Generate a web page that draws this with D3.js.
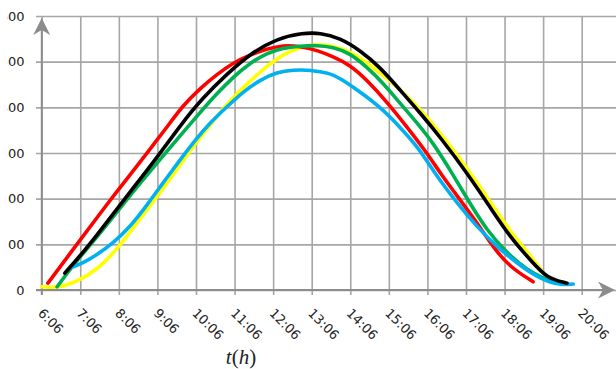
<!DOCTYPE html>
<html>
<head>
<meta charset="utf-8">
<script src="https://cdn.jsdelivr.net/npm/d3@7"></script>
<style>
  body { margin: 0; background: #fff; }
  svg { display: block; font-family: "DejaVu Sans", sans-serif; }
</style>
</head>
<body>
<svg id="chart" width="616" height="369"></svg>
<script>
// x ticks: one every hour, at h:06
const hourTicks = d3.range(6, 21).map(h => h + 0.1);
const tickLabels = d3.range(6, 21).map(h => h + ':06');
const valueTicks = [0, 100, 200, 300, 400, 500, 600];

// series, time in decimal hours
const redTime = [6.26, 6.65, 7.09, 7.53, 7.95, 8.39, 8.83, 9.35, 9.76, 10.20, 10.64, 11.06, 11.50, 11.94, 12.36, 12.80, 13.24, 13.65, 14.09, 14.53, 15.08, 15.57, 16.09, 16.43, 16.95, 17.39, 17.80, 18.24, 18.84];
const redVal = [15, 59, 109, 158, 205, 252, 300, 357, 404, 441, 472, 497, 515, 528, 536, 534, 525, 511, 493, 460, 409, 357, 300, 256, 197, 147, 94, 50, 18];

const blackTime = [6.70, 7.09, 7.53, 8.05, 8.57, 9.09, 9.76, 10.28, 10.90, 11.50, 12.20, 12.88, 13.32, 13.83, 14.35, 14.87, 15.39, 15.91, 16.43, 17.13, 17.72, 18.24, 18.84, 19.20, 19.72];
const blackVal = [37, 74, 120, 177, 234, 290, 368, 421, 473, 517, 551, 563, 563, 552, 525, 488, 438, 388, 335, 256, 182, 116, 59, 26, 15];

const greenTime = [6.50, 6.76, 7.09, 7.53, 8.05, 8.57, 9.25, 9.76, 10.20, 10.64, 11.06, 11.50, 11.94, 12.36, 12.80, 13.24, 13.65, 14.09, 14.53, 14.95, 15.39, 15.83, 16.25, 16.74, 17.20, 17.64, 18.16, 18.68, 19.10, 19.35];
const greenVal = [7, 37, 72, 116, 170, 226, 294, 345, 388, 430, 466, 497, 519, 530, 534, 536, 532, 519, 488, 453, 409, 366, 322, 256, 190, 131, 81, 44, 26, 18];

const yellowTime = [6.10, 6.57, 7.09, 7.53, 8.05, 8.57, 9.09, 9.61, 10.02, 10.64, 11.06, 11.50, 11.94, 12.36, 12.80, 13.24, 13.83, 14.35, 14.87, 15.39, 15.91, 16.43, 17.13, 17.72, 18.24, 18.84, 19.15];
const yellowVal = [7, 4, 22, 44, 88, 147, 204, 264, 314, 380, 422, 458, 490, 516, 532, 539, 532, 510, 475, 440, 396, 345, 266, 195, 128, 68, 33];

const blueTime = [6.89, 7.17, 7.53, 7.95, 8.39, 8.83, 9.24, 9.69, 10.02, 10.46, 10.90, 11.32, 11.76, 12.20, 12.62, 13.06, 13.57, 13.83, 14.35, 14.87, 15.39, 15.91, 16.25, 16.87, 17.39, 17.91, 18.42, 18.94, 19.46, 19.88];
const blueVal = [50, 59, 77, 103, 138, 186, 234, 285, 322, 366, 401, 434, 460, 477, 482, 482, 475, 464, 434, 401, 357, 307, 260, 190, 138, 94, 59, 28, 11, 13];

const series = [
  { color: '#ffff00', time: yellowTime, val: yellowVal },
  { color: '#ff0000', time: redTime, val: redVal },
  { color: '#00b050', time: greenTime, val: greenVal },
  { color: '#00b0f0', time: blueTime, val: blueVal },
  { color: '#000000', time: blackTime, val: blackVal }
];

const svg = d3.select('#chart');
const gridColor = '#a6a6a6';

const x = d3.scaleLinear().domain([6.1, 20.1]).range([41.7, 581.7]);
const y = d3.scaleLinear().domain([0, 600]).range([290, 16]);

// the left edge of the picture cuts the value labels
svg.append('defs').append('clipPath').attr('id', 'cut')
  .append('rect').attr('x', 7.5).attr('y', 0).attr('width', 616).attr('height', 369);

// vertical grid + rotated time labels
const xAxis = svg.append('g')
  .attr('transform', 'translate(0,295)')
  .call(d3.axisBottom(x).tickValues(hourTicks)
    .tickFormat((d, i) => tickLabels[i])
    .tickSizeInner(-(295 - 16)).tickSizeOuter(0));
xAxis.select('.domain').remove();
xAxis.selectAll('line').attr('stroke', gridColor).attr('stroke-width', 1.6);
xAxis.selectAll('text')
  .attr('x', 0).attr('y', 0).attr('dy', 0)
  .attr('text-anchor', 'start')
  .attr('transform', 'translate(-5,19) rotate(45)')
  .attr('fill', '#222')
  .style('font-size', '13px')
  .style('font-family', '"DejaVu Sans", sans-serif');

// horizontal grid + value labels
const yAxis = svg.append('g')
  .attr('clip-path', 'url(#cut)')
  .append('g')
  .attr('transform', 'translate(36,0)')
  .call(d3.axisLeft(y).tickValues(valueTicks)
    .tickSizeInner(-(616 - 36)).tickSizeOuter(0).tickPadding(11.5));
yAxis.select('.domain').remove();
yAxis.selectAll('line').attr('stroke', gridColor).attr('stroke-width', 1.6);
yAxis.selectAll('text')
  .attr('fill', '#222')
  .style('font-size', '13px')
  .style('font-family', '"DejaVu Sans", sans-serif');

// axis lines with arrows
const axisColor = '#8c8c8c';
svg.append('line')
  .attr('x1', x(6.1)).attr('x2', x(6.1)).attr('y1', 295).attr('y2', 24)
  .attr('stroke', axisColor).attr('stroke-width', 1.8);
svg.append('line')
  .attr('x1', 36).attr('x2', 606).attr('y1', y(0)).attr('y2', y(0))
  .attr('stroke', axisColor).attr('stroke-width', 1.8);

const ax = x(6.1), ay = y(0);
svg.append('path')
  .attr('d', `M${ax},18 L${ax + 8.5},35 L${ax},30 L${ax - 8.5},35 Z`)
  .attr('fill', axisColor);
svg.append('path')
  .attr('d', `M615,${ay} L598,${ay - 8.5} L603,${ay} L598,${ay + 8.5} Z`)
  .attr('fill', axisColor);

// curves
const line = d3.line()
  .x(d => x(d[0]))
  .y(d => y(d[1]))
  .curve(d3.curveBasis);

svg.append('g').selectAll('path')
  .data(series)
  .enter().append('path')
    .attr('d', s => line(s.time.map((t, i) => [t, s.val[i]])))
    .attr('fill', 'none')
    .attr('stroke', s => s.color)
    .attr('stroke-width', 3.6)
    .attr('stroke-linecap', 'round')
    .attr('stroke-linejoin', 'round');

// axis title t(h)
const title = svg.append('text')
  .attr('x', 241).attr('y', 364)
  .attr('text-anchor', 'middle')
  .style('font-family', '"Liberation Serif", "DejaVu Serif", serif')
  .style('font-size', '21px')
  .attr('fill', '#222');
title.append('tspan').style('font-style', 'italic').text('t');
title.append('tspan').text('(');
title.append('tspan').style('font-style', 'italic').text('h');
title.append('tspan').text(')');
</script>
</body>
</html>
